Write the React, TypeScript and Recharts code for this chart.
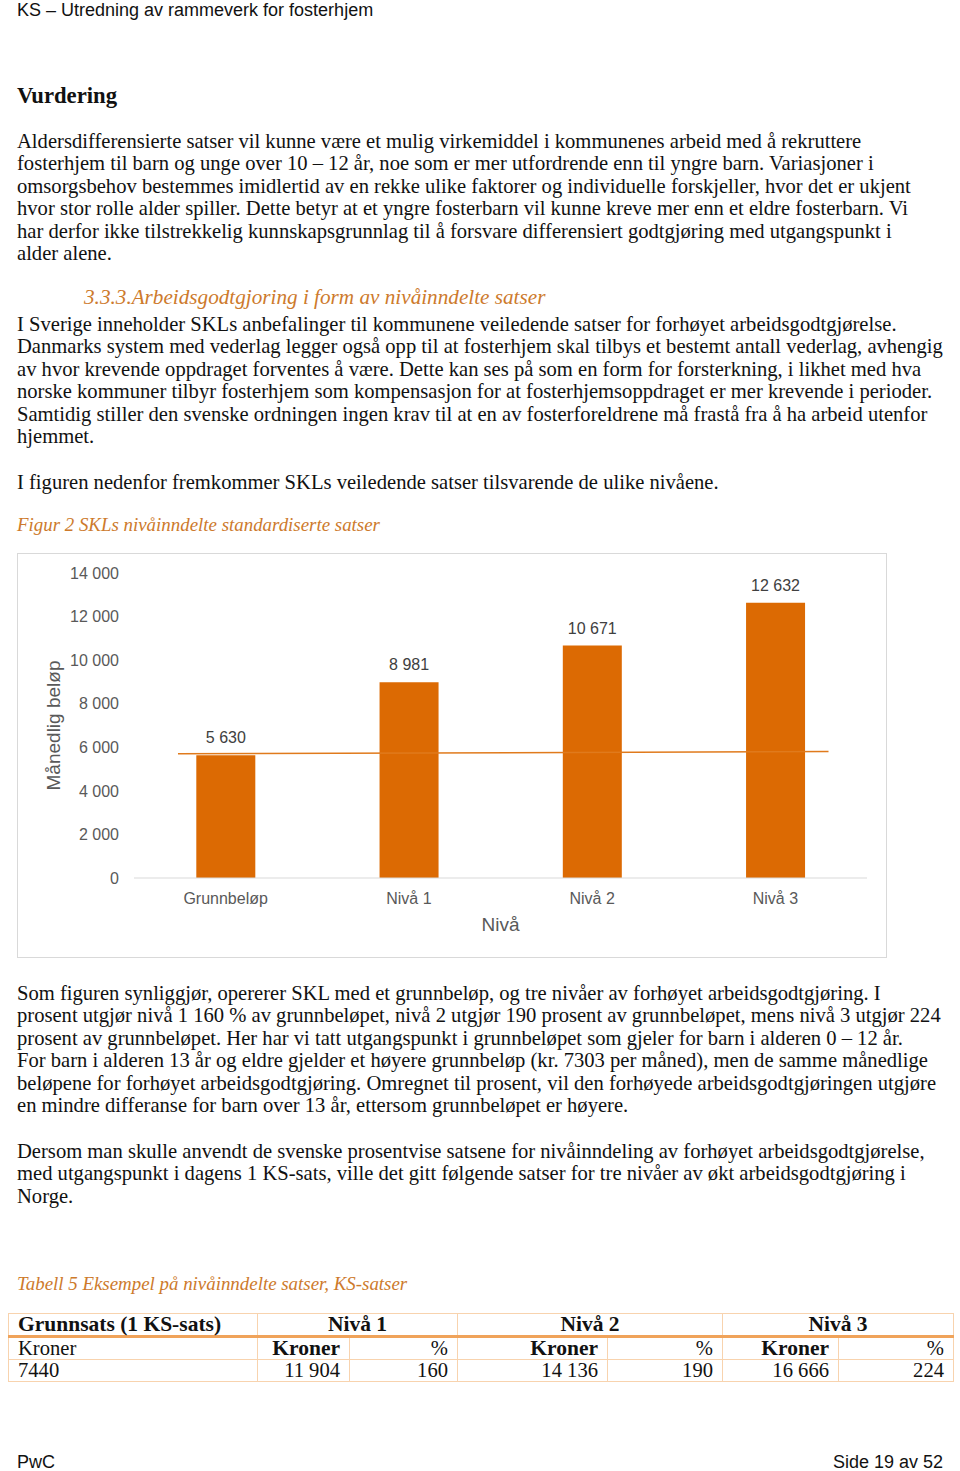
import {
  ComposedChart, Bar, Line, XAxis, YAxis, LabelList,
} from "recharts";

const CATEGORIES = ["Grunnbeløp", "Nivå 1", "Nivå 2", "Nivå 3"];
const VALUES = [5630, 8981, 10671, 12632];
const Y_TICKS = [0, 2000, 4000, 6000, 8000, 10000, 12000, 14000];
// thin orange line drawn across the plot (position on a 0..4 category scale)
const LINE_X = [0.24, 3.79];
const LINE_Y = [5700, 5806];

const TABLE_HEAD = ["Grunnsats (1 KS-sats)", "Nivå 1", "Nivå 2", "Nivå 3"];
const TABLE_BASE = "7440";
const TABLE_KRONER = ["11 904", "14 136", "16 666"];
const TABLE_PCT = ["160", "190", "224"];

const PARA1 = [
  "Aldersdifferensierte satser vil kunne være et mulig virkemiddel i kommunenes arbeid med å rekruttere",
  "fosterhjem til barn og unge over 10 – 12 år, noe som er mer utfordrende enn til yngre barn. Variasjoner i",
  "omsorgsbehov bestemmes imidlertid av en rekke ulike faktorer og individuelle forskjeller, hvor det er ukjent",
  "hvor stor rolle alder spiller. Dette betyr at et yngre fosterbarn vil kunne kreve mer enn et eldre fosterbarn. Vi",
  "har derfor ikke tilstrekkelig kunnskapsgrunnlag til å forsvare differensiert godtgjøring med utgangspunkt i",
  "alder alene.",
];
const PARA2 = [
  "I Sverige inneholder SKLs anbefalinger til kommunene veiledende satser for forhøyet arbeidsgodtgjørelse.",
  "Danmarks system med vederlag legger også opp til at fosterhjem skal tilbys et bestemt antall vederlag, avhengig",
  "av hvor krevende oppdraget forventes å være. Dette kan ses på som en form for forsterkning, i likhet med hva",
  "norske kommuner tilbyr fosterhjem som kompensasjon for at fosterhjemsoppdraget er mer krevende i perioder.",
  "Samtidig stiller den svenske ordningen ingen krav til at en av fosterforeldrene må frastå fra å ha arbeid utenfor",
  "hjemmet.",
];
const PARA3 = [
  "Som figuren synliggjør, opererer SKL med et grunnbeløp, og tre nivåer av forhøyet arbeidsgodtgjøring. I",
  "prosent utgjør nivå 1 160 % av grunnbeløpet, nivå 2 utgjør 190 prosent av grunnbeløpet, mens nivå 3 utgjør 224",
  "prosent av grunnbeløpet. Her har vi tatt utgangspunkt i grunnbeløpet som gjeler for barn i alderen 0 – 12 år.",
  "For barn i alderen 13 år og eldre gjelder et høyere grunnbeløp (kr. 7303 per måned), men de samme månedlige",
  "beløpene for forhøyet arbeidsgodtgjøring. Omregnet til prosent, vil den forhøyede arbeidsgodtgjøringen utgjøre",
  "en mindre differanse for barn over 13 år, ettersom grunnbeløpet er høyere.",
];
const PARA4 = [
  "Dersom man skulle anvendt de svenske prosentvise satsene for nivåinndeling av forhøyet arbeidsgodtgjørelse,",
  "med utgangspunkt i dagens 1 KS-sats, ville det gitt følgende satser for tre nivåer av økt arbeidsgodtgjøring i",
  "Norge.",
];

const ORANGE = "#dc6a03";
const CAPTION = "#cd7a2c";
const SERIF = "Georgia, 'Liberation Serif', serif";
const SANS = "Arial, 'Liberation Sans', sans-serif";

const fmt = (v: number) => String(v).replace(/\B(?=(\d{3})+(?!\d))/g, " ");

const chartData = CATEGORIES.map((name, i) => ({ name, value: VALUES[i] }));
const lineData = LINE_X.map((x, i) => ({ x, y: LINE_Y[i] }));

function Block({ top, left = 17, lines, style }: { top: number; left?: number; lines: string[]; style?: React.CSSProperties }) {
  return (
    <div style={{ position: "absolute", top, left, fontFamily: SERIF, fontSize: 20.6, lineHeight: "22.4px", color: "#111", whiteSpace: "nowrap", ...style }}>
      {lines.map((l, i) => <div key={i}>{l}</div>)}
    </div>
  );
}

function SklChart() {
  const tick = { fill: "#595959", fontSize: 16, fontFamily: SANS };
  return (
    <div style={{ position: "absolute", left: 17, top: 553, width: 870, height: 405, border: "1px solid #d9d9d9", boxSizing: "border-box", background: "#fff" }}>
      <ComposedChart width={868} height={403} data={chartData} margin={{ top: 19, right: 19, bottom: 0, left: 0 }} barCategoryGap="34%">
        <XAxis dataKey="name" xAxisId="cat" tickLine={false} axisLine={{ stroke: "#d9d9d9" }} tick={tick}
          tickSize={0} tickMargin={15} height={79}
          label={{ value: "Nivå", position: "insideTop", offset: 40, fill: "#595959", fontSize: 19, fontFamily: SANS }} />
        <XAxis xAxisId="line" type="number" dataKey="x" domain={[0, 4]} hide allowDataOverflow />
        <YAxis domain={[0, 14000]} ticks={Y_TICKS} tickFormatter={fmt} tick={tick} tickLine={false} axisLine={false}
          tickSize={0} tickMargin={15} width={116} interval={0}
          label={{ value: "Månedlig beløp", angle: -90, position: "center", dx: -23, fill: "#595959", fontSize: 19, fontFamily: SANS }} />
        <Bar dataKey="value" xAxisId="cat" fill={ORANGE} isAnimationActive={false}>
          <LabelList dataKey="value" position="top" offset={12} formatter={(v: number) => fmt(v)} fill="#404040" fontSize={16} fontFamily={SANS} />
        </Bar>
        <Line data={lineData} dataKey="y" xAxisId="line" stroke="#e07a1c" strokeWidth={1.5} dot={false} isAnimationActive={false} />
      </ComposedChart>
    </div>
  );
}

function KsTable() {
  const bd = "1px solid #f8d3ae";
  const thick = "3px solid #f0a35a";
  const cell: React.CSSProperties = { border: bd, padding: "0 9px", height: 21, lineHeight: "21px", whiteSpace: "nowrap", overflow: "visible" };
  const head: React.CSSProperties = { ...cell, fontWeight: "bold", fontSize: 21.5, borderBottom: thick };
  const widths = [249, 92, 108, 150, 115, 116, 115];
  return (
    <table style={{ position: "absolute", left: 8, top: 1313, width: 945, borderCollapse: "collapse", tableLayout: "fixed", fontFamily: SERIF, fontSize: 20.6, color: "#111" }}>
      <colgroup>{widths.map((w, i) => <col key={i} style={{ width: w }} />)}</colgroup>
      <tbody>
        <tr>
          <td style={head}>{TABLE_HEAD[0]}</td>
          {TABLE_HEAD.slice(1).map((h) => (
            <td key={h} colSpan={2} style={{ ...head, textAlign: "center" }}>{h}</td>
          ))}
        </tr>
        <tr>
          <td style={cell}>Kroner</td>
          {TABLE_KRONER.map((_, i) => [
            <td key={"k" + i} style={{ ...cell, fontWeight: "bold", fontSize: 21.5, textAlign: "right" }}>Kroner</td>,
            <td key={"p" + i} style={{ ...cell, textAlign: "right" }}>%</td>,
          ])}
        </tr>
        <tr>
          <td style={cell}>{TABLE_BASE}</td>
          {TABLE_KRONER.map((k, i) => [
            <td key={"k" + i} style={{ ...cell, textAlign: "right" }}>{k}</td>,
            <td key={"p" + i} style={{ ...cell, textAlign: "right" }}>{TABLE_PCT[i]}</td>,
          ])}
        </tr>
      </tbody>
    </table>
  );
}

export default function App() {
  const sans: React.CSSProperties = { position: "absolute", fontFamily: SANS, fontSize: 18, lineHeight: "20px", color: "#111" };
  return (
    <div style={{ position: "absolute", left: 0, top: 0, width: 960, height: 1471, background: "#fff", overflow: "hidden" }}>
      <div style={{ ...sans, left: 17, top: 0 }}>KS – Utredning av rammeverk for fosterhjem</div>
      <Block top={83} lines={["Vurdering"]} style={{ fontWeight: "bold", fontSize: 22.7, lineHeight: "26px" }} />
      <Block top={130} lines={PARA1} />
      <Block top={286} left={84} lines={["3.3.3.Arbeidsgodtgjoring i form av nivåinndelte satser"]} style={{ fontStyle: "italic", color: CAPTION, fontSize: 21.2 }} />
      <Block top={313} lines={PARA2} />
      <Block top={471} lines={["I figuren nedenfor fremkommer SKLs veiledende satser tilsvarende de ulike nivåene."]} />
      <Block top={514} lines={["Figur 2 SKLs nivåinndelte standardiserte satser"]} style={{ fontStyle: "italic", color: CAPTION, fontSize: 18.9 }} />
      <SklChart />
      <Block top={982} lines={PARA3} />
      <Block top={1140} lines={PARA4} />
      <Block top={1273} lines={["Tabell 5 Eksempel på nivåinndelte satser, KS-satser"]} style={{ fontStyle: "italic", color: CAPTION, fontSize: 18.9 }} />
      <KsTable />
      <div style={{ ...sans, left: 17, top: 1454, lineHeight: "16px" }}>PwC</div>
      <div style={{ ...sans, right: 17, top: 1454, lineHeight: "16px" }}>Side 19 av 52</div>
    </div>
  );
}
